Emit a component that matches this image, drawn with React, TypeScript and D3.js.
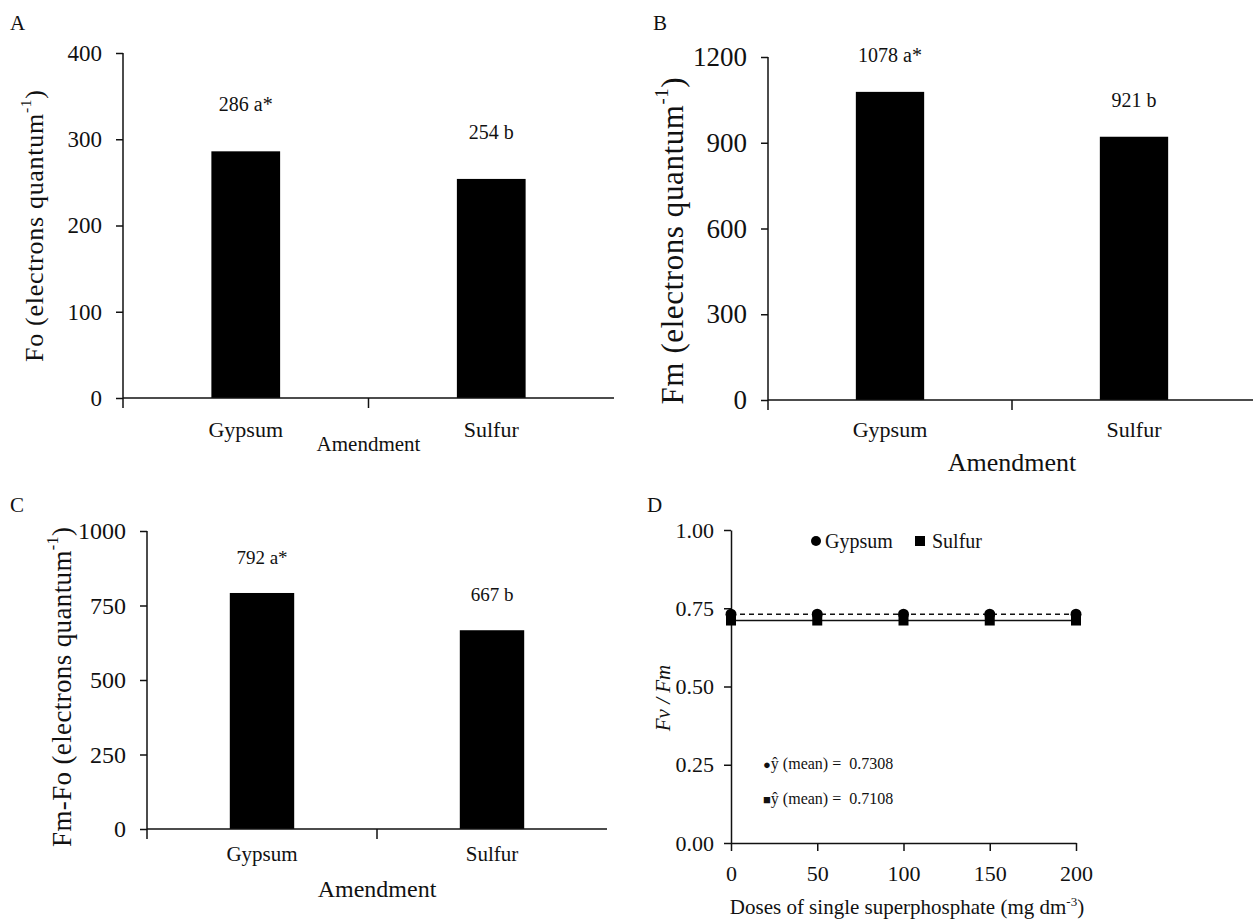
import React, { useRef, useEffect } from 'react';
import * as d3 from 'd3';

// bar panels (A, B, C)
const amendments = ['Gypsum', 'Sulfur'];
const foValues = [286, 254];
const foLabels = ['286 a*', '254 b'];
const fmValues = [1078, 921];
const fmLabels = ['1078 a*', '921 b'];
const fmFoValues = [792, 667];
const fmFoLabels = ['792 a*', '667 b'];
const foTicks = [0, 100, 200, 300, 400];
const fmTicks = [0, 300, 600, 900, 1200];
const fmFoTicks = [0, 250, 500, 750, 1000];

// panel D
const doses = [0, 50, 100, 150, 200];
const gypsumFvFm = [0.7308, 0.7308, 0.7308, 0.7308, 0.7308];
const sulfurFvFm = [0.7108, 0.7108, 0.7108, 0.7108, 0.7108];
const gypsumMean = 0.7308;
const sulfurMean = 0.7108;
const ratioTicks = [0, 0.25, 0.5, 0.75, 1];
const doseTicks = [0, 50, 100, 150, 200];

const FONT = "'Liberation Serif', 'Times New Roman', serif";
const INK = '#111';

const barPanels = [
  {
    letter: 'A', letterX: 10, letterY: 30,
    values: foValues, labels: foLabels, ticks: foTicks,
    left: 123, right: 614, top: 53, bottom: 398,
    tickFont: 23, catFont: 22, catDy: 39, labelFont: 20, labelGap: 40,
    title: 'Fo (electrons quantum', titleX: 34, titleY: 226, titleFont: 26, titleLen: 272,
    xTitleY: 451, xTitleFont: 21,
  },
  {
    letter: 'B', letterX: 653, letterY: 30,
    values: fmValues, labels: fmLabels, ticks: fmTicks,
    left: 768, right: 1256, top: 57, bottom: 400,
    tickFont: 27, catFont: 22, catDy: 37, labelFont: 20, labelGap: 30,
    title: 'Fm (electrons quantum', titleX: 672, titleY: 241, titleFont: 31, titleLen: 327,
    xTitleY: 471, xTitleFont: 26,
  },
  {
    letter: 'C', letterX: 10, letterY: 512,
    values: fmFoValues, labels: fmFoLabels, ticks: fmFoTicks,
    left: 147, right: 607, top: 531, bottom: 829,
    tickFont: 24, catFont: 21, catDy: 32, labelFont: 19, labelGap: 29,
    title: 'Fm-Fo (electrons quantum', titleX: 62, titleY: 687, titleFont: 27, titleLen: 320,
    xTitleY: 897, xTitleFont: 24,
  },
];

const App = () => {
  const chartRef = useRef(null);

  useEffect(() => {
    const chartDOM = chartRef.current;
    if (!chartDOM) return;
    const svg = d3.select(chartDOM);
    svg.selectAll('*').remove();

    barPanels.forEach(p => {
      const g = svg.append('g');
      const yMax = p.ticks[p.ticks.length - 1];
      const y = d3.scaleLinear().domain([0, yMax]).range([p.bottom, p.top]);
      const x = d3
        .scaleBand()
        .domain(amendments)
        .range([p.left, p.right])
        .paddingInner(0.72)
        .paddingOuter(0.36);

      g.append('text')
        .attr('x', p.letterX)
        .attr('y', p.letterY)
        .attr('font-family', FONT)
        .attr('font-size', 21)
        .attr('fill', INK)
        .text(p.letter);

      // bars
      g.selectAll('rect.bar')
        .data(p.values)
        .enter()
        .append('rect')
        .attr('x', (d, i) => x(amendments[i]))
        .attr('y', d => y(d))
        .attr('width', x.bandwidth())
        .attr('height', d => y(0) - y(d))
        .attr('fill', '#000');

      // value labels
      g.selectAll('text.val')
        .data(p.values)
        .enter()
        .append('text')
        .attr('x', (d, i) => x(amendments[i]) + x.bandwidth() / 2)
        .attr('y', d => y(d) - p.labelGap)
        .attr('text-anchor', 'middle')
        .attr('font-family', FONT)
        .attr('font-size', p.labelFont)
        .attr('fill', INK)
        .attr('xml:space', 'preserve')
        .text((d, i) => p.labels[i]);

      // y axis
      const ya = g
        .append('g')
        .attr('transform', 'translate(' + p.left + ',0)')
        .call(
          d3.axisLeft(y)
            .tickValues(p.ticks)
            .tickFormat(d3.format('d'))
            .tickSize(7)
            .tickPadding(14)
            .tickSizeOuter(0)
        );
      ya.attr('font-family', FONT);
      ya.select('.domain').remove();
      ya.selectAll('line').attr('stroke', INK).attr('stroke-width', 1.5);
      ya.selectAll('text').attr('font-family', FONT).attr('font-size', p.tickFont).attr('fill', INK);
      g.append('line')
        .attr('x1', p.left).attr('x2', p.left)
        .attr('y1', p.top).attr('y2', p.bottom + 10)
        .attr('stroke', INK).attr('stroke-width', 1.5);

      // x axis
      g.append('line')
        .attr('x1', p.left).attr('x2', p.right)
        .attr('y1', y(0)).attr('y2', y(0))
        .attr('stroke', INK).attr('stroke-width', 1.5);
      const mid = p.left + x.step();
      g.append('line')
        .attr('x1', mid).attr('x2', mid)
        .attr('y1', y(0)).attr('y2', y(0) + 10)
        .attr('stroke', INK).attr('stroke-width', 1.5);

      g.selectAll('text.cat')
        .data(amendments)
        .enter()
        .append('text')
        .attr('x', d => x(d) + x.bandwidth() / 2)
        .attr('y', y(0) + p.catDy)
        .attr('text-anchor', 'middle')
        .attr('font-family', FONT)
        .attr('font-size', p.catFont)
        .attr('fill', INK)
        .text(d => d);

      g.append('text')
        .attr('x', mid)
        .attr('y', p.xTitleY)
        .attr('text-anchor', 'middle')
        .attr('font-family', FONT)
        .attr('font-size', p.xTitleFont)
        .attr('fill', INK)
        .text('Amendment');

      const t = g
        .append('text')
        .attr('transform', 'translate(' + p.titleX + ',' + p.titleY + ') rotate(-90)')
        .attr('text-anchor', 'middle')
        .attr('dominant-baseline', 'central')
        .attr('font-family', FONT)
        .attr('font-size', p.titleFont)
        .attr('fill', INK)
        .attr('textLength', p.titleLen)
        .attr('lengthAdjust', 'spacing');
      t.append('tspan').text(p.title);
      t.append('tspan').attr('dy', -p.titleFont * 0.35).attr('font-size', p.titleFont * 0.6).text('-1');
      t.append('tspan').attr('dy', p.titleFont * 0.35).text(')');
    });

    // panel D
    const d = { left: 731, right: 1076, top: 530, bottom: 843 };
    const gd = svg.append('g');
    const x = d3.scaleLinear().domain([0, 200]).range([d.left, d.right]);
    const y = d3.scaleLinear().domain([0, 1]).range([d.bottom, d.top]);

    gd.append('text')
      .attr('x', 647).attr('y', 512)
      .attr('font-family', FONT).attr('font-size', 21).attr('fill', INK)
      .text('D');

    const ya = gd
      .append('g')
      .attr('transform', 'translate(' + d.left + ',0)')
      .call(d3.axisLeft(y).tickValues(ratioTicks).tickFormat(d3.format('.2f')).tickSize(7).tickPadding(10).tickSizeOuter(0));
    ya.select('.domain').attr('stroke', INK).attr('stroke-width', 1.5);
    ya.selectAll('line').attr('stroke', INK).attr('stroke-width', 1.5);
    ya.selectAll('text').attr('font-family', FONT).attr('font-size', 22).attr('fill', INK);

    const xa = gd
      .append('g')
      .attr('transform', 'translate(0,' + d.bottom + ')')
      .call(d3.axisBottom(x).tickValues(doseTicks).tickSize(8).tickPadding(14).tickSizeOuter(0));
    xa.select('.domain').attr('stroke', INK).attr('stroke-width', 1.5);
    xa.selectAll('line').attr('stroke', INK).attr('stroke-width', 1.5);
    xa.selectAll('text').attr('font-family', FONT).attr('font-size', 22).attr('fill', INK);

    // mean lines
    gd.append('line')
      .attr('x1', x(0)).attr('x2', x(200))
      .attr('y1', y(gypsumMean)).attr('y2', y(gypsumMean))
      .attr('stroke', INK).attr('stroke-width', 1.5).attr('stroke-dasharray', '5,4');
    gd.append('line')
      .attr('x1', x(0)).attr('x2', x(200))
      .attr('y1', y(sulfurMean)).attr('y2', y(sulfurMean))
      .attr('stroke', INK).attr('stroke-width', 1.5);

    gd.selectAll('circle.gyp')
      .data(doses)
      .enter()
      .append('circle')
      .attr('cx', v => x(v))
      .attr('cy', (v, i) => y(gypsumFvFm[i]))
      .attr('r', 5.5)
      .attr('fill', '#000');
    gd.selectAll('rect.sul')
      .data(doses)
      .enter()
      .append('rect')
      .attr('x', v => x(v) - 5)
      .attr('y', (v, i) => y(sulfurFvFm[i]) - 5)
      .attr('width', 10)
      .attr('height', 10)
      .attr('fill', '#000');

    // legend
    gd.append('circle').attr('cx', 816).attr('cy', 541).attr('r', 5).attr('fill', '#000');
    gd.append('text')
      .attr('x', 825).attr('y', 548)
      .attr('font-family', FONT).attr('font-size', 20).attr('fill', INK)
      .text('Gypsum');
    gd.append('rect').attr('x', 915).attr('y', 536).attr('width', 10).attr('height', 10).attr('fill', '#000');
    gd.append('text')
      .attr('x', 932).attr('y', 548)
      .attr('font-family', FONT).attr('font-size', 20).attr('fill', INK)
      .text('Sulfur');

    // mean annotations
    const notes = [
      { mark: '\u25CF', value: gypsumMean, y: 769 },
      { mark: '\u25A0', value: sulfurMean, y: 804 },
    ];
    notes.forEach(n => {
      const t = gd
        .append('text')
        .attr('x', 763).attr('y', n.y)
        .attr('font-family', FONT).attr('font-size', 16).attr('fill', INK)
        .attr('xml:space', 'preserve');
      t.append('tspan').attr('font-size', 13).text(n.mark);
      t.append('tspan').text('\u0177 (mean) =  ' + d3.format('.4f')(n.value));
    });

    // axis titles
    gd.append('text')
      .attr('transform', 'translate(663,698) rotate(-90)')
      .attr('text-anchor', 'middle')
      .attr('dominant-baseline', 'central')
      .attr('font-family', FONT)
      .attr('font-style', 'italic')
      .attr('font-size', 21)
      .attr('fill', INK)
      .text('Fv / Fm');

    const xt = gd
      .append('text')
      .attr('x', 907).attr('y', 914)
      .attr('text-anchor', 'middle')
      .attr('font-family', FONT).attr('font-size', 21).attr('fill', INK);
    xt.append('tspan').text('Doses of single superphosphate (mg dm');
    xt.append('tspan').attr('dy', -8).attr('font-size', 13).text('-3');
    xt.append('tspan').attr('dy', 8).text(')');
  });

  return (
    <svg
      ref={chartRef}
      width="1253"
      height="919"
      style={{ position: 'absolute', left: 0, top: 0, background: '#fff' }}
    />
  );
};

export default App;
